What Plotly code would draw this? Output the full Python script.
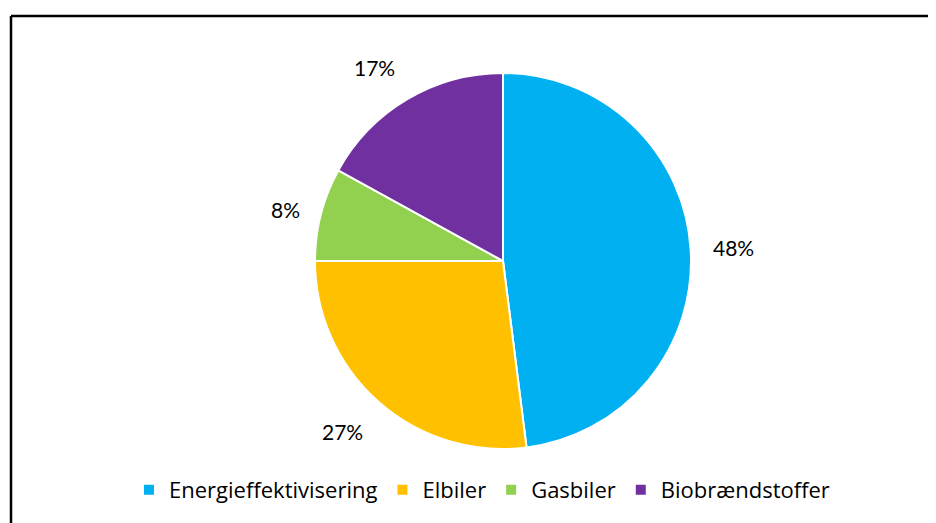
import math
import plotly.graph_objects as go

# andele af besparelse
labels = ['Energieffektivisering', 'Elbiler', 'Gasbiler', 'Biobrændstoffer']
values = [48, 27, 8, 17]
colors = ['#00B0F0', '#FFC000', '#92D050', '#7030A0']

W, H = 936, 523
OFF = 8  # sidens body-margin forskyder figuren
cx, cy, R = 503 - OFF, 261 - OFF, 188  # cirklens centrum / radius i pixels


def px_x(x):
    return x / W


def px_y(y):
    return 1 - y / H


fig = go.Figure(go.Pie(
    labels=labels,
    values=values,
    sort=False,
    direction='clockwise',
    rotation=0,
    marker=dict(colors=colors, line=dict(color='white', width=2)),
    textinfo='none',
    hoverinfo='label+percent',
    domain=dict(x=[px_x(cx - R), px_x(cx + R)], y=[px_y(cy + R), px_y(cy - R)]),
))

# procent-etiketter uden for cirklen, placeret ud fra skivernes midtvinkler
total = sum(values)
acc = 0
for v in values:
    mid = (acc + v / 2) / total * 2 * math.pi
    acc += v
    s, c = math.sin(mid), math.cos(mid)
    px = cx + (R + 20) * s
    py = cy - (R + 20) * c
    xa = 'left' if s > 0.3 else ('right' if s < -0.3 else 'center')
    ya = 'bottom' if c > 0.5 else ('top' if c < -0.5 else 'middle')
    fig.add_annotation(
        x=px_x(px), y=px_y(py), xref='paper', yref='paper',
        text=f'{round(v / total * 100)}%', showarrow=False,
        xanchor=xa, yanchor=ya,
        font=dict(size=21, color='#000000', family='Lato'),
    )

# ramme (kun top og venstre side er synlige)
fig.add_shape(type='line', xref='paper', yref='paper',
              x0=px_x(11 - OFF), y0=px_y(16 - OFF), x1=1, y1=px_y(16 - OFF),
              line=dict(color='black', width=2.5))
fig.add_shape(type='line', xref='paper', yref='paper',
              x0=px_x(11 - OFF), y0=px_y(16 - OFF), x1=px_x(11 - OFF), y1=0,
              line=dict(color='black', width=2.5))

fig.update_layout(
    width=W, height=H,
    margin=dict(l=0, r=0, t=0, b=0),
    paper_bgcolor='white',
    font=dict(family='Open Sans', size=22, color='#000000'),
    showlegend=True,
    legend=dict(orientation='h', x=px_x(482 - OFF), xanchor='center', y=px_y(490 - OFF), yanchor='middle',
                traceorder='normal', font=dict(size=22, family='Open Sans')),
)

fig.write_html('out.html')
